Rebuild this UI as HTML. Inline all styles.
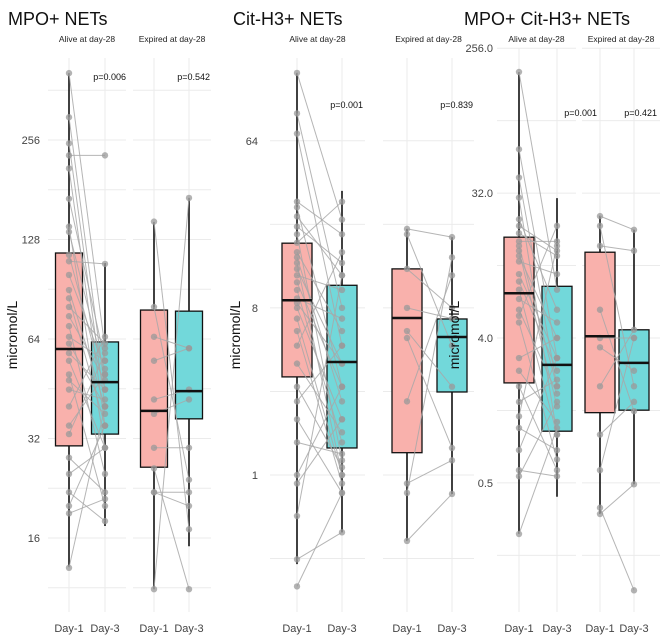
<!DOCTYPE html>
<html><head><meta charset="utf-8"><style>
body{margin:0;background:#fff;}
svg{display:block;font-family:"Liberation Sans",sans-serif;}
</style></head><body>
<svg id="chart" width="661" height="638" viewBox="0 0 661 638"></svg>
<script>
// ---------- data ----------
const panelTitles = ["MPO+ NETs", "Cit-H3+ NETs", "MPO+ Cit-H3+ NETs"];
const facetLabels = ["Alive at day-28", "Expired at day-28"];
const dayLabels = ["Day-1", "Day-3"];
const pValues = [["p=0.006","p=0.542"],["p=0.001","p=0.839"],["p=0.001","p=0.421"]];
const tickValues = [[16,32,64,128,256],[1,8,64],[0.5,4,32,256]];
const tickLabels = [["16","32","64","128","256"],["1","8","64"],["0.5","4.0","32.0","256.0"]];
// box stats: [low whisker, q1, median, q3, high whisker]
const boxStats = [
 [[[13.1,30.4,59.7,116.5,408],[17.4,33,47.4,62.7,108.7]],[[11.2,26.2,38.8,78.3,144.6],[15.1,36.7,44.5,77.7,171]]],
 [[[0.33,3.39,8.8,17.9,149],[0.49,1.4,4.08,10.6,34.3]],[[0.44,1.32,7.05,13,21.4],[0.79,2.81,5.57,6.97,19.3]]],
 [[[0.24,2.1,7.6,17,182],[0.41,1.05,2.72,8.4,29.8]],[[0.32,1.37,4.1,13.7,23.1],[0.49,1.42,2.8,4.5,18.9]]]
];
// paired observations [day1, day3]
const pairs = [
 [[[408,60],[300,45],[250,40],[230,230],[210,35],[170,55],[140,30],[135,50],[115,45],[110,108],[100,52],[90,40],[85,35],[80,62],[75,48],[70,25],[65,55],[62,40],[58,45],[55,30],[50,20],[48,38],[45,42],[40,65],[35,50],[33,58],[28,22],[25,30],[22,18],[20,35],[19,21],[13,40]],
  [[145,17],[80,24],[65,60],[55,60],[42,45],[38,42],[30,30],[22,22],[22,20],[11.2,171],[26,11.2]]],
 [[[149,24],[90,8],[70,5],[30,20],[28,3],[25,12],[22,14],[20,1.2],[18,30],[16,6],[15,2.5],[14,1],[13,4],[12,10],[11,3],[10,1.5],[9,7],[8.5,4],[8,2],[7,1],[6,0.9],[5,16],[4,1.7],[3,1.1],[2.5,5],[2,0.8],[1.5,1.3],[1,3],[0.9,2],[0.6,12],[0.35,0.49],[0.25,0.8]],
  [[21.4,19.3],[20,5],[13,8],[8,7],[6,3],[5.5,1.4],[2.5,12],[0.9,1.2],[0.8,15],[0.44,0.79]]],
 [[[182,8],[60,3],[40,2],[30,1],[22,6],[20,14],[18,13],[16,16],[15,2],[14,1.5],[13,4],[12,10],[10,3],[9,2.5],[8,1],[7,5],[6,1.8],[5.5,20],[5,0.7],[3,4],[2.5,1.2],[2,0.6],[1.6,2.2],[1.3,15],[1.1,0.8],[0.8,3],[0.6,0.55],[0.55,1.6],[0.24,1.1]],
  [[23,18.9],[20,2],[15,14],[6,1.4],[4,4],[3.5,2.5],[2,4.5],[1,1.6],[0.6,4],[0.32,0.49],[0.35,0.107]]]
];
// ---------- layout ----------
const layout = [
 {titleX:8, ylabX:17, tickX:40, refV:16, refY:538, ppd:99.5, top:58, bot:612, bw:27,
  xs:[[69,105],[154,189]], facets:[[48,126],[133,211]], pX:[126,210], pY:80},
 {titleX:233, ylabX:240, tickX:258, refV:1, refY:475, ppd:55.7, top:58, bot:612, bw:30,
  xs:[[297,342],[407,452]], facets:[[270,365],[383,474]], pX:[363,473], pY:108},
 {titleX:464, ylabX:459, tickX:493, refV:4, refY:338, ppd:48.3, top:48, bot:612, bw:30,
  xs:[[519,557],[600,634]], facets:[[497,576],[582,660]], pX:[597,657], pY:116}
];
const NS="http://www.w3.org/2000/svg";
const svg=document.getElementById('chart');
function el(tag,attrs,parent){const e=document.createElementNS(NS,tag);for(const k in attrs)e.setAttribute(k,attrs[k]);(parent||svg).appendChild(e);return e;}
const fills=["#f9b1ac","#72d8da"];
layout.forEach((L,pi)=>{
  const y=v=>L.refY-L.ppd*Math.log2(v/L.refV);
  const g=el('g',{});
  
  
  L.facets.forEach((f,fi)=>{
    const ticks=tickValues[pi];
    const ys=ticks.map(y);
    const step=L.ppd*Math.log2(ticks[1]/ticks[0]);
    for(let yy=ys[0]+step/2; yy>=L.top; yy-=step/2){
      if(yy>L.bot) continue;
      const gl=el('line',{x1:f[0],x2:f[1],y1:yy,y2:yy,stroke:'#ebebeb','stroke-width':1},g);
      
      
    }
    L.xs[fi].forEach(x=>{
      const vl=el('line',{x1:x,x2:x,y1:L.top,y2:L.bot,stroke:'#ebebeb','stroke-width':1},g);
      
      
    });
  });
  const t=el('text',{x:L.titleX,y:25,'font-size':18,fill:'#111'},g);t.textContent=panelTitles[pi];
  
  
  const yl=el('text',{x:L.ylabX,y:335,'font-size':14,fill:'#111','text-anchor':'middle',transform:`rotate(-90 ${L.ylabX} 335)`},g);yl.textContent='micromol/L';
  
  
  tickValues[pi].forEach((v,i)=>{
    const tt=el('text',{x:L.tickX,y:y(v)+4,'font-size':11,fill:'#444','text-anchor':'end'},g);tt.textContent=tickLabels[pi][i];
    
    
  });
  L.facets.forEach((f,fi)=>{
    const s=el('text',{x:(f[0]+f[1])/2,y:42,'font-size':8.5,fill:'#222','text-anchor':'middle'},g);s.textContent=facetLabels[fi];
    
    
    const p=el('text',{x:L.pX[fi],y:L.pY,'font-size':9,fill:'#111','text-anchor':'end'},g);p.textContent=pValues[pi][fi];
    
    
    const xs=L.xs[fi];
    dayLabels.forEach((d,di)=>{
      const dl=el('text',{x:xs[di],y:632,'font-size':11,fill:'#444','text-anchor':'middle'},g);dl.textContent=d;
      
      
    });
    boxStats[pi][fi].forEach((b,di)=>{
      const x=xs[di];
      const w=el('line',{x1:x,x2:x,y1:y(b[0]),y2:y(b[4]),stroke:'#111','stroke-width':1.6},g);
      
      
      const r=el('rect',{x:x-L.bw/2,y:y(b[3]),width:L.bw,height:y(b[1])-y(b[3]),fill:fills[di],stroke:'#111','stroke-width':1.3},g);
      
      
    });
    pairs[pi][fi].forEach(pr=>{
      const ln=el('line',{x1:xs[0],y1:y(pr[0]),x2:xs[1],y2:y(pr[1]),stroke:'#a8a8a8','stroke-width':1,'stroke-opacity':0.85},g);
      
      
    });
    pairs[pi][fi].forEach(pr=>{
      pr.forEach((v,di)=>{
        const c=el('circle',{cx:xs[di],cy:y(v),r:3.2,fill:'#999','fill-opacity':0.75},g);
        
        
      });
    });
    boxStats[pi][fi].forEach((b,di)=>{
      const x=xs[di];
      const m=el('line',{x1:x-L.bw/2,x2:x+L.bw/2,y1:y(b[2]),y2:y(b[2]),stroke:'#111','stroke-width':2.5},g);
      
      
    });
  });
});
</script>
</body></html>
